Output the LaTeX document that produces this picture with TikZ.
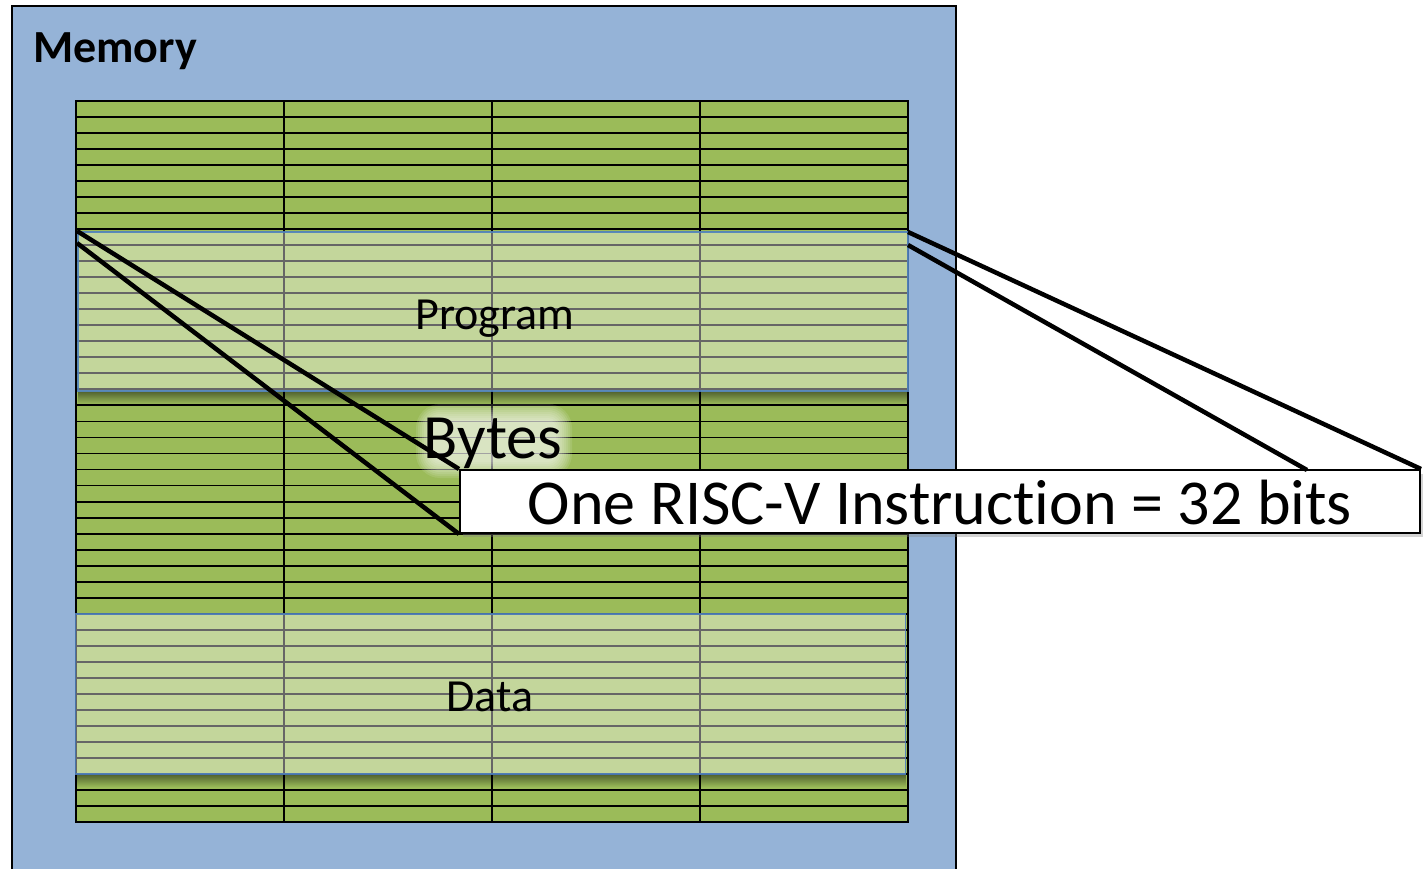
\documentclass[tikz,border=0pt]{standalone}
\usepackage{fontspec}
\setmainfont{Carlito}[RawFeature={-liga;-clig;-dlig;-calt}]
\usetikzlibrary{shadows,fadings,calc}
\definecolor{memblue}{RGB}{149,179,215}
\definecolor{cellgreen}{RGB}{155,187,89}
\definecolor{ovborder}{RGB}{79,129,189}
\tikzfading[name=fadedown, top color=transparent!55, bottom color=transparent!100]
\tikzset{
  membox/.style={draw=black, line width=2pt, fill=memblue},
  gridline/.style={draw=black, line width=2pt},
  overlay/.style={draw=ovborder, line width=1.5pt, fill=white, fill opacity=0.4, draw opacity=0.9, rectangle, inner sep=0pt},
  ovlabel/.style={font=\fontsize{46}{50}\selectfont, anchor=base, text=black},
  callout/.style={draw=black, line width=2pt, fill=white, rectangle, inner sep=0pt,
    drop shadow={shadow xshift=3pt, shadow yshift=-4pt, opacity=0.35}},
  conn/.style={draw=black, line width=4.5pt},
}
\begin{document}
\begin{tikzpicture}[x=1pt,y=-1pt]
\useasboundingbox (0,0) rectangle (1426,868);
% memory box
\path[membox] (12,6) rectangle (956,890);
\node[anchor=base west, font=\fontsize{46}{50}\selectfont\bfseries, inner sep=0pt] (memlbl) at (33,62) {Memory};
% grid
\def\rh{16.0222}
\fill[cellgreen] (76,101) rectangle (908,822);
\foreach \i in {1,...,44} {\draw[gridline, line width=1.9pt] (76,101+\i*\rh) -- (908,101+\i*\rh);}
\foreach \x in {284,492,700} {\draw[gridline] (\x,101) -- (\x,822);}
\draw[gridline] (76,101) rectangle (908,822);
% shadows below overlays
\fill[black, path fading=fadedown] (78,392) rectangle (908,404);
\fill[black, path fading=fadedown] (76,775) rectangle (906,787);
% overlays
\node[overlay, minimum width=830pt, minimum height=159pt] (prog) at (493,311.5) {};
\node[overlay, minimum width=830pt, minimum height=160pt] (data) at (490.5,694) {};
\node[ovlabel] (proglbl) at (495,329) {Program};
\node[ovlabel] (datalbl) at (490,711) {Data};
% glow behind Bytes
\foreach \d in {0,2,...,16} {
  \fill[white, opacity=0.11, rounded corners={8pt+\d pt}] (432-\d,420-\d) rectangle (556+\d,462+\d);
}
\node[font=\fontsize{63}{66}\selectfont, anchor=base] (bytes) at (493,458) {Bytes};
% callout
\node[callout, minimum width=960pt, minimum height=63pt] (instr) at (940,501.5) {};
\node[font=\fontsize{64}{68}\selectfont, anchor=base] (instrlbl) at (940,524) {One RISC-V Instruct\kern0pt ion = 32 bits};
\coordinate (a1) at (77,231);
\coordinate (a2) at (77,243);
\coordinate (b1) at (908,232);
\coordinate (b2) at (908,245);
\coordinate (c2) at (1307,470);
\draw[conn] (a1) -- (instr.north west);
\draw[conn] (a2) -- (instr.south west);
\draw[conn] (b1) -- (instr.north east);
\draw[conn] (b2) -- (c2);
\end{tikzpicture}
\end{document}
